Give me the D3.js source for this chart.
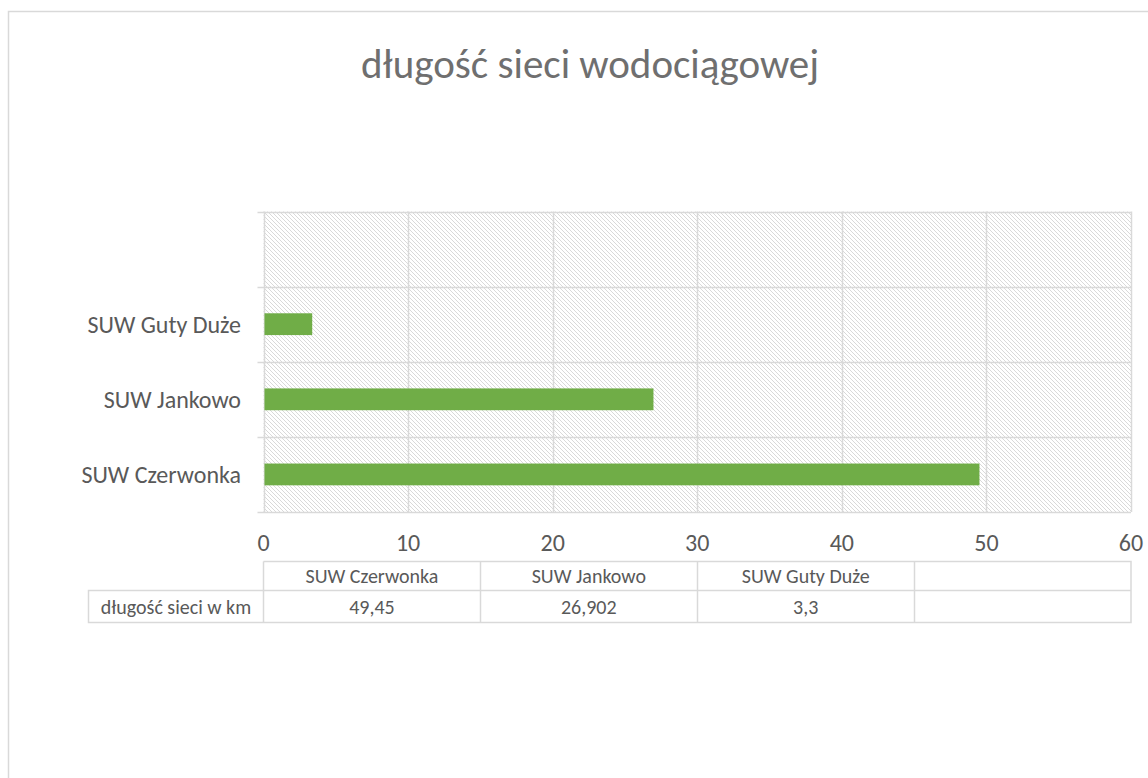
<!DOCTYPE html>
<html>
<head>
<meta charset="utf-8">
<script src="https://cdn.jsdelivr.net/npm/d3@7"></script>
<style>
  body { margin: 0; background: #fff; }
  text { font-family: Calibri, Carlito, Lato, "Open Sans", sans-serif; fill: #595959; }
</style>
</head>
<body>
<script>
// chart data
const categories = ["SUW Czerwonka", "SUW Jankowo", "SUW Guty Duże", ""];
const values = [49.45, 26.902, 3.3, null];
const valueLabels = ["49,45", "26,902", "3,3", ""];
const xTicks = [0, 10, 20, 30, 40, 50, 60];
const seriesName = "długość sieci w km";
const title = "długość sieci wodociągowej";

const width = 1148, height = 778;
const plot = {left: 263.5, right: 1131, top: 211.5, bottom: 512};

const svg = d3.select("body").append("svg")
    .attr("width", width)
    .attr("height", height);

// hatch fill for the plot area
const defs = svg.append("defs");
const pat = defs.append("pattern")
    .attr("id", "hatch")
    .attr("patternUnits", "userSpaceOnUse")
    .attr("width", 4).attr("height", 4);
pat.append("path")
    .attr("d", "M-1,-1 L5,5 M-1,3 L1,5 M3,-1 L5,1")
    .attr("stroke", "#d9d9d9")
    .attr("stroke-width", 1);

// chart frame
svg.append("rect")
    .attr("x", 8.5).attr("y", 11.5)
    .attr("width", width).attr("height", height)
    .attr("fill", "none")
    .attr("stroke", "#d9d9d9")
    .attr("stroke-width", 1.5);

svg.append("text")
    .attr("x", 590).attr("y", 78)
    .attr("text-anchor", "middle")
    .attr("font-size", 41)
    .attr("fill", "#6f6f6f")
    .style("fill", "#6f6f6f")
    .text(title);

const x = d3.scaleLinear().domain([0, 60]).range([plot.left, plot.right]);
const y = d3.scaleBand().domain(categories).range([plot.bottom, plot.top]);

svg.append("rect")
    .attr("x", plot.left).attr("y", plot.top)
    .attr("width", plot.right - plot.left)
    .attr("height", plot.bottom - plot.top)
    .attr("fill", "url(#hatch)");

// vertical gridlines
svg.append("g")
  .selectAll("line")
  .data(xTicks)
  .join("line")
    .attr("x1", d => Math.round(x(d)) + 0.5)
    .attr("x2", d => Math.round(x(d)) + 0.5)
    .attr("y1", plot.top).attr("y2", plot.bottom)
    .attr("stroke", "#d9d9d9")
    .attr("stroke-width", 1.5);

// horizontal gridlines at band edges, with small ticks to the left
const edges = categories.map(c => y(c)).concat([plot.bottom]);
svg.append("g")
  .selectAll("line")
  .data(edges)
  .join("line")
    .attr("x1", plot.left - 6).attr("x2", plot.right)
    .attr("y1", d => Math.round(d) + 0.5)
    .attr("y2", d => Math.round(d) + 0.5)
    .attr("stroke", "#d9d9d9")
    .attr("stroke-width", 1.5);

// bars
const barH = y.bandwidth() * 0.29;
svg.append("g")
  .selectAll("rect")
  .data(categories.map((c, i) => ({c, v: values[i]})).filter(d => d.v != null))
  .join("rect")
    .attr("x", x(0) + 1)
    .attr("y", d => y(d.c) + (y.bandwidth() - barH) / 2)
    .attr("width", d => x(d.v) - x(0))
    .attr("height", barH)
    .attr("fill", "#70ad47");

// category labels
svg.append("g")
  .selectAll("text")
  .data(categories)
  .join("text")
    .attr("x", 241)
    .attr("y", d => y(d) + y.bandwidth() / 2)
    .attr("dy", "0.35em")
    .attr("text-anchor", "end")
    .attr("font-size", 24)
    .text(d => d);

// value axis labels
svg.append("g")
  .selectAll("text")
  .data(xTicks)
  .join("text")
    .attr("x", d => x(d))
    .attr("y", 543)
    .attr("dy", "0.35em")
    .attr("text-anchor", "middle")
    .attr("font-size", 24)
    .text(d => d);

// data table
const col = d3.scaleBand().domain(categories).range([plot.left, plot.right]);
const rowTop = 561.5, rowMid = 590.5, rowBot = 622.5, labelLeft = 88.5;
const tbl = svg.append("g")
    .attr("stroke", "#d9d9d9")
    .attr("stroke-width", 1.5)
    .attr("fill", "none");
tbl.append("path")
    .attr("d", `M${plot.left},${rowTop}H${plot.right}V${rowBot}H${labelLeft}V${rowMid}H${plot.right}`
      + ` M${plot.left},${rowTop}V${rowBot}`);
tbl.selectAll("line")
  .data(categories.slice(1))
  .join("line")
    .attr("x1", d => Math.round(col(d)) + 0.5)
    .attr("x2", d => Math.round(col(d)) + 0.5)
    .attr("y1", rowTop).attr("y2", rowBot);

svg.append("g")
  .selectAll("text")
  .data(categories)
  .join("text")
    .attr("x", d => col(d) + col.bandwidth() / 2)
    .attr("y", (rowTop + rowMid) / 2)
    .attr("dy", "0.35em")
    .attr("text-anchor", "middle")
    .attr("font-size", 20)
    .text(d => d);

svg.append("g")
  .selectAll("text")
  .data(categories)
  .join("text")
    .attr("x", d => col(d) + col.bandwidth() / 2)
    .attr("y", (rowMid + rowBot) / 2)
    .attr("dy", "0.35em")
    .attr("text-anchor", "middle")
    .attr("font-size", 20)
    .text((d, i) => valueLabels[i]);

svg.append("text")
    .attr("x", (labelLeft + plot.left) / 2)
    .attr("y", (rowMid + rowBot) / 2)
    .attr("dy", "0.35em")
    .attr("text-anchor", "middle")
    .attr("font-size", 20)
    .text(seriesName);
</script>
</body>
</html>
